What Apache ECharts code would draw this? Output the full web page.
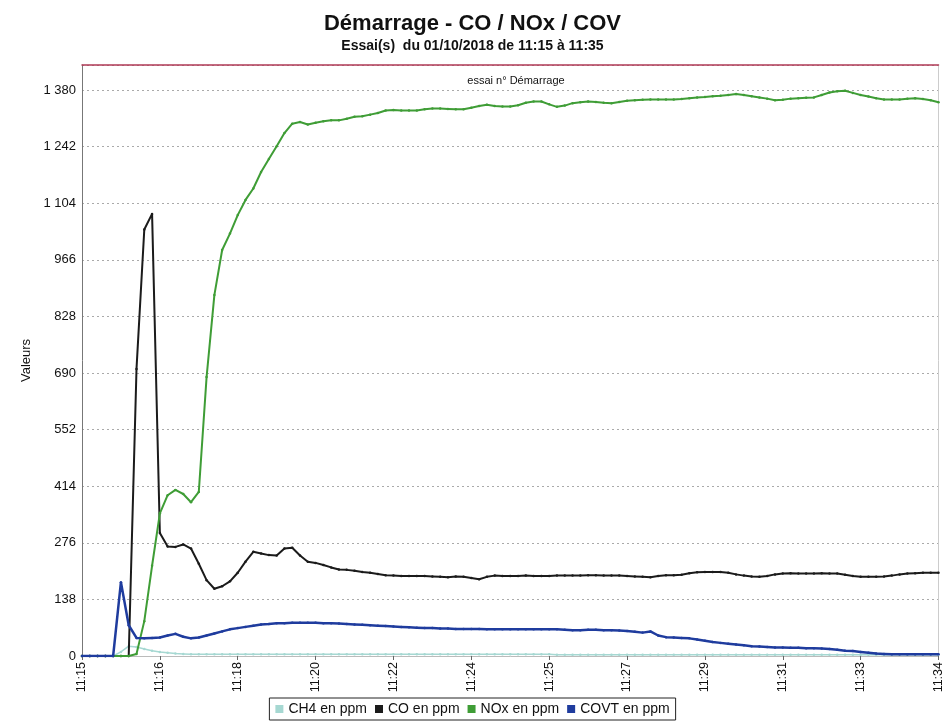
<!DOCTYPE html>
<html>
<head>
<meta charset="utf-8">
<script src="https://cdn.jsdelivr.net/npm/echarts@6/dist/echarts.min.js"></script>
<style>
  html, body { margin: 0; padding: 0; background: #fff; }
  #chart { width: 945px; height: 724px; }
</style>
</head>
<body>
<div id="chart"></div>
<script>
// x tick labels, one every 10 samples (111 samples in all)
const tickLabels = ['11:15', '11:16', '11:18', '11:20', '11:22', '11:24', '11:25', '11:27', '11:29', '11:31', '11:33', '11:34']
const yTicks = [0, 138, 276, 414, 552, 690, 828, 966, 1104, 1242, 1380]

const ch4 = [0, 0, 0, 0, 0, 10, 24, 22, 17, 13, 10, 8, 6, 5, 4, 4, 4, 4, 4, 4,
  4, 4, 4, 4, 4, 4, 4, 4, 4, 4, 4, 4, 4, 4, 4, 4, 4, 4, 4, 4,
  4, 4, 4, 4, 4, 4, 4, 4, 4, 4, 4, 4, 4, 4, 4, 4, 4, 4, 4, 4,
  4, 3, 3, 3, 3, 3, 3, 3, 3, 3, 3, 3, 3, 3, 3, 3, 3, 3, 3, 3,
  3, 3, 3, 3, 3, 3, 3, 3, 3, 3, 3, 3, 3, 3, 3, 3, 3, 3, 3, 3,
  3, 3, 3, 3, 3, 3, 3, 3, 3, 3, 3]

const co = [0, 0, 0, 0, 0, 0, 0, 700, 1040, 1078, 300, 267, 266, 272, 262, 225, 185, 164, 170, 182,
  203, 230, 254, 250, 246, 245, 262, 264, 245, 230, 227, 222, 216, 211, 210, 208, 205, 203, 200, 197,
  196, 195, 195, 195, 195, 194, 193, 192, 194, 193, 190, 187, 193, 196, 195, 195, 195, 196, 195, 195,
  195, 196, 196, 196, 196, 197, 197, 196, 196, 196, 195, 194, 193, 192, 195, 197, 197, 198, 202, 204,
  205, 205, 205, 203, 199, 196, 194, 193, 195, 199, 201, 202, 201, 201, 201, 202, 201, 201, 198, 195,
  193, 193, 193, 194, 196, 199, 201, 202, 203, 203, 203]

const nox = [0, 0, 0, 0, 0, 0, 0, 5, 85, 220, 348, 392, 405, 395, 375, 400, 680, 880, 990, 1030,
  1075, 1112, 1140, 1180, 1212, 1243, 1275, 1298, 1302, 1296, 1300, 1304, 1306, 1306, 1310, 1315, 1316, 1320, 1324, 1330,
  1331, 1330, 1330, 1330, 1333, 1335, 1335, 1334, 1333, 1333, 1337, 1341, 1344, 1341, 1340, 1340, 1343, 1349, 1352, 1352,
  1345, 1339, 1342, 1348, 1350, 1352, 1351, 1349, 1348, 1351, 1354, 1355, 1356, 1357, 1357, 1357, 1357, 1358, 1360, 1362,
  1363, 1365, 1366, 1368, 1370, 1368, 1365, 1362, 1359, 1355, 1356, 1359, 1360, 1361, 1362, 1368, 1374, 1377, 1378, 1373,
  1368, 1364, 1360, 1357, 1357, 1357, 1359, 1360, 1358, 1355, 1350]

const covt = [0, 0, 0, 0, 0, 180, 75, 44, 43, 44, 45, 50, 54, 47, 43, 45, 50, 55, 60, 65,
  68, 71, 74, 77, 78, 80, 80, 81, 81, 81, 81, 80, 80, 79, 78, 77, 76, 75, 74, 73,
  72, 71, 70, 69, 68, 68, 67, 67, 66, 66, 66, 66, 65, 65, 65, 65, 65, 65, 65, 65,
  65, 65, 64, 63, 63, 64, 64, 63, 63, 62, 61, 59, 57, 60, 50, 46, 45, 44, 43, 40,
  37, 34, 32, 30, 28, 26, 24, 23, 22, 21, 21, 20, 20, 19, 19, 18, 17, 15, 13, 12,
  10, 8, 6, 5, 4, 4, 4, 4, 4, 4, 4]

const seriesNames = ['CH4 en ppm', 'CO en ppm', 'NOx en ppm', 'COVT en ppm']
const seriesColors = ['#a6d8d2', '#1b1b1b', '#3f9d36', '#1f3c9e']
const seriesWidths = [1.5, 2, 2, 2.5]

const fontFam = '"Liberation Sans", Arial, sans-serif'

function fmtNum (v) {
  return String(v).replace(/\B(?=(\d{3})+(?!\d))/g, ' ')
}

function init () {
  const chart = echarts.init(document.getElementById('chart'))
  const all = [ch4, co, nox, covt]
  let seriesData = []
  for (let k = 0; k < all.length; k++) {
    seriesData.push({
      name: seriesNames[k],
      type: 'line',
      data: all[k].map((v, i) => [i, v]),
      symbol: 'circle',
      symbolSize: 2.5,
      showSymbol: true,
      lineStyle: { color: seriesColors[k], width: seriesWidths[k] },
      itemStyle: { color: seriesColors[k] },
      emphasis: { disabled: true },
      z: 2 + k
    })
  }

  const option = {
    backgroundColor: '#fff',
    animation: false,
    textStyle: { fontFamily: fontFam },
    title: [{
      text: 'Démarrage - CO / NOx / COV',
      subtext: 'Essai(s)  du 01/10/2018 de 11:15 à 11:35',
      left: 'center',
      top: 8,
      itemGap: 4,
      textStyle: { fontSize: 22, fontWeight: 'bold', color: '#111', fontFamily: fontFam },
      subtextStyle: { fontSize: 14, fontWeight: 'bold', color: '#111', fontFamily: fontFam }
    }, {
      text: 'essai n° Démarrage',
      left: 511,
      textAlign: 'center',
      top: 70,
      textStyle: { fontSize: 11, fontWeight: 'normal', color: '#111', fontFamily: fontFam }
    }],
    legend: {
      data: seriesNames,
      top: 698,
      left: 'center',
      icon: 'rect',
      itemWidth: 8,
      itemHeight: 8,
      itemGap: 8,
      padding: [4, 6, 4, 6],
      borderColor: '#222',
      borderWidth: 1,
      textStyle: { fontSize: 14, color: '#111', fontFamily: fontFam }
    },
    grid: { left: 82, right: 5, top: 65, bottom: 68, containLabel: false },
    xAxis: [{
      type: 'value',
      min: 0,
      max: 110,
      interval: 10,
      axisLine: { show: true, onZero: false, lineStyle: { color: '#bbb' } },
      axisTick: { show: true, length: 4, lineStyle: { color: '#666' } },
      axisLabel: {
        rotate: 90,
        fontSize: 12.5,
        color: '#111',
        margin: 6,
        formatter: v => tickLabels[Math.round(v / 10)] || ''
      },
      splitLine: { show: false }
    }, {
      type: 'value',
      position: 'top',
      min: 0,
      max: 110,
      axisLine: { show: true, onZero: false, lineStyle: { color: '#b03a55', width: 1.5 } },
      axisTick: { show: false },
      axisLabel: { show: false },
      splitLine: { show: false }
    }],
    yAxis: [{
      type: 'value',
      min: 0,
      max: 1441,
      interval: 138,
      name: 'Valeurs',
      nameLocation: 'middle',
      nameRotate: 90,
      nameGap: 44,
      nameTextStyle: { fontSize: 13, color: '#111' },
      axisLine: { show: true, onZero: false, lineStyle: { color: '#777' } },
      axisTick: { show: false },
      axisLabel: {
        fontSize: 13,
        color: '#111',
        margin: 6,
        formatter: v => (yTicks.indexOf(v) >= 0 ? fmtNum(v) : '')
      },
      splitLine: { show: true, lineStyle: { color: '#aaa', type: [2, 3] } }
    }, {
      type: 'value',
      position: 'right',
      min: 0,
      max: 1441,
      axisLine: { show: true, onZero: false, lineStyle: { color: '#ccc' } },
      axisTick: { show: false },
      axisLabel: { show: false },
      splitLine: { show: false }
    }],
    series: seriesData
  }
  chart.setOption(option)
}

init()
</script>
</body>
</html>
